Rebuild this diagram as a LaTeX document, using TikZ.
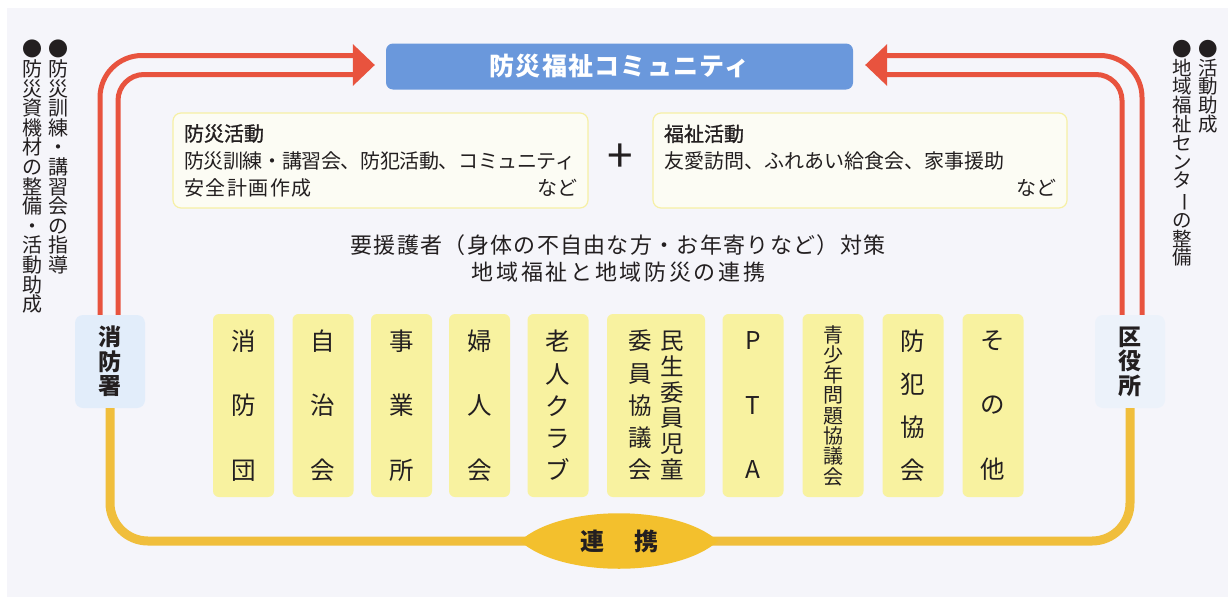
\documentclass[tikz,border=0pt]{standalone}
\usepackage{fontspec}
\setmainfont{Noto Sans CJK JP}
\usetikzlibrary{shapes.geometric,calc}
\definecolor{bgc}{RGB}{245,245,250}
\definecolor{redc}{RGB}{232,83,62}
\definecolor{ylc}{RGB}{240,190,60}
\definecolor{lensc}{RGB}{243,192,45}
\definecolor{titlec}{RGB}{106,152,220}
\definecolor{boxc}{RGB}{248,242,160}
\definecolor{actfill}{RGB}{252,252,244}
\definecolor{actdraw}{RGB}{246,240,165}
\definecolor{shoboc}{RGB}{226,237,250}
\definecolor{kuyakuc}{RGB}{236,242,250}
\definecolor{txt}{RGB}{35,31,32}
\newcommand\vbar{\rotatebox[origin=c]{-90}{ー}}
\newcommand\medw[1]{{\addfontfeatures{FakeBold=1}#1}}
\tikzset{
  orgbox/.style={fill=boxc, rounded corners=6, minimum width=61, minimum height=183,
    inner sep=0, align=center, text=txt},
  pitch/.style={font=\fontsize{24.5}{#1}\selectfont},
  station/.style={minimum width=70, minimum height=93, rounded corners=8, inner sep=0,
    align=center, text=txt, font=\fontsize{23}{24.5}\selectfont\bfseries},
  sidetext/.style={anchor=north, inner sep=0, align=center, text=txt},
  actbox/.style={fill=actfill, draw=actdraw, line width=1.2, rounded corners=8,
    minimum height=95, inner xsep=11, align=left, text=txt,
    font=\fontsize{20}{27}\selectfont},
  redline/.style={draw=redc, line width=5},
  yline/.style={draw=ylc, line width=9},
}
\begin{document}
\begin{tikzpicture}[x=1pt,y=-1pt]
\fill[white] (0,0) rectangle (1228,597);
\fill[bgc] (7,8) rectangle (1228,597);
\useasboundingbox (0,0) rectangle (1228,597);

% title
\node[fill=titlec, rounded corners=7, minimum width=467, minimum height=46, inner sep=0,
  text=white, font=\fontsize{25}{25}\selectfont\bfseries\addfontfeatures{LetterSpace=5}]
  (title) at (619.5,66.5) {防災福祉コミュニティ};

% activity boxes
\node[actbox, text width=393] (bosai) at (380.5,160.5)
  {\medw{防災活動}\\{\addfontfeatures{LetterSpace=-2}防災訓練・講習会、防犯活動、コミュニティ}\\{\addfontfeatures{LetterSpace=8}安全計画作成}\hfill など};
\node[actbox, text width=392] (fukushi) at (860,160.5)
  {\medw{福祉活動}\\友愛訪問、ふれあい給食会、家事援助\\\hfill など};
\node[inner sep=0, text=txt, font=\fontsize{46}{46}\selectfont] (plus) at (620,158) {+};

% middle text
\node[inner sep=0, text=txt, font=\fontsize{22}{22}\selectfont\addfontfeatures{LetterSpace=6}]
  (taisaku) at (618,245) {要援護者（身体の不自由な方・お年寄りなど）対策};
\node[inner sep=0, text=txt, font=\fontsize{22}{22}\selectfont\addfontfeatures{LetterSpace=12}]
  (renkeitxt) at (618.5,272) {地域福祉と地域防災の連携};

% stations
\node[station, fill=shoboc] (shobo) at (110,361.5) {消\\防\\署};
\node[station, fill=kuyakuc] (kuyaku) at (1130,361.5) {区\\役\\所};

% organisations
\node[orgbox, pitch=64.5] (o1) at (243.5,405.5) {消\\防\\団};
\node[orgbox, pitch=64.5] (o2) at (323,405.5) {自\\治\\会};
\node[orgbox, pitch=64.5] (o3) at (401.5,405.5) {事\\業\\所};
\node[orgbox, pitch=64.5] (o4) at (479.5,405.5) {婦\\人\\会};
\node[orgbox, pitch=32.3] (o5) at (558,405.5) {老\\人\\ク\\ラ\\ブ};
\node[orgbox, minimum width=98] (o6) at (656,405.5) {};
\node[inner sep=0, align=center, text=txt, font=\fontsize{23.5}{25.8}\selectfont]
  (o6a) at ([xshift=16]o6.center) {民\\生\\委\\員\\児\\童};
\node[inner sep=0, align=center, text=txt, font=\fontsize{23.5}{32.3}\selectfont]
  (o6b) at ([xshift=-16]o6.center) {委\\員\\協\\議\\会};
\node[orgbox, pitch=64.5] (o7) at (753,405.5) {P\\T\\A};
\node[orgbox, font=\fontsize{20}{20.3}\selectfont] (o8) at (833,405.5) {青\\少\\年\\問\\題\\協\\議\\会};
\node[orgbox, pitch=43] (o9) at (913,405.5) {防\\犯\\協\\会};
\node[orgbox, pitch=64.5] (o10) at (993,405.5) {そ\\の\\他};

% side texts
\node[sidetext, font=\fontsize{20}{19.6}\selectfont] (s1) at (58,40)
  {●\\防\\災\\訓\\練\\・\\講\\習\\会\\の\\指\\導};
\node[sidetext, font=\fontsize{20}{19.6}\selectfont] (s2) at (33,40)
  {●\\防\\災\\資\\機\\材\\の\\整\\備\\・\\活\\動\\助\\成};
\node[sidetext, font=\fontsize{19.5}{18.8}\selectfont] (s3) at (1208,40)
  {●\\活\\動\\助\\成};
\node[sidetext, font=\fontsize{19.5}{18.8}\selectfont] (s4) at (1182,40)
  {●\\地\\域\\福\\祉\\セ\\ン\\タ\\\vbar\\の\\整\\備};

% red arrows
\coordinate (LT) at ([xshift=-11,yshift=1.5]title.west);
\coordinate (RT) at ([xshift=12,yshift=1.5]title.east);
\draw[redline, rounded corners=42] ([xshift=-10]shobo.north) |- ([xshift=-15,yshift=9.5]LT);
\draw[redline, rounded corners=26] ([xshift=8]shobo.north) |- ([xshift=-15,yshift=-9.5]LT);
\fill[redc] (LT) -- ([xshift=-22,yshift=21]LT) -- ([xshift=-22,yshift=-21]LT) -- cycle;
\draw[redline, rounded corners=42] ([xshift=12]kuyaku.north) |- ([xshift=15,yshift=9.5]RT);
\draw[redline, rounded corners=26] ([xshift=-8]kuyaku.north) |- ([xshift=15,yshift=-9.5]RT);
\fill[redc] (RT) -- ([xshift=22,yshift=21]RT) -- ([xshift=22,yshift=-21]RT) -- cycle;

% yellow loop
\coordinate (rk) at (619,541);
\draw[yline, rounded corners=38] (shobo.south) -- (shobo.south |- rk) -- (kuyaku.south |- rk) -- (kuyaku.south);
\fill[lensc] ([xshift=-99]rk) .. controls ([xshift=-58,yshift=37]rk) and ([xshift=58,yshift=37]rk) .. ([xshift=99]rk)
  .. controls ([xshift=58,yshift=-37]rk) and ([xshift=-58,yshift=-37]rk) .. cycle;
\node[inner sep=0, text=txt, font=\fontsize{24}{24}\selectfont\bfseries] (renkei) at (rk) {連\hspace{30pt}携};
\end{tikzpicture}
\end{document}
